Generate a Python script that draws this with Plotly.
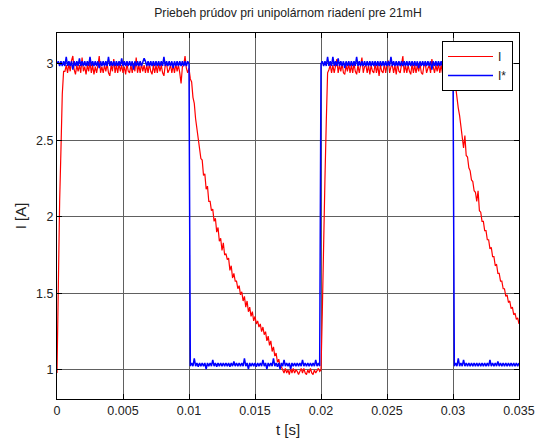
import numpy as np
import plotly.graph_objects as go

# time base: 0 .. 0.035 s, 0.1 ms sampling
t = np.round(np.arange(351) * 0.0001, 5)

# ---- measured current I (red) ----
i_rise1 = [0.98, 1.67, 2.10, 2.44, 2.80, 2.95]
i_plat1 = [2.95,2.99,2.94,3.00,2.95,3.02,3.05,2.96,2.93,2.99,2.95,2.99,2.94,3.04,2.95,2.98,2.93,2.99,2.95,3.01,
           2.94,2.99,2.93,2.98,2.94,2.99,3.05,2.94,2.98,2.94,2.99,2.95,3.00,2.94,2.92,2.99,2.95,3.03,2.94,2.99,
           2.94,3.00,2.95,2.99,2.94,2.98,2.93,3.00,2.95,2.94,2.99,2.94,3.00,2.95,3.04,2.94,2.99,2.94,3.00,2.95,
           2.99,2.94,2.99,2.94,3.00,2.95,2.93,2.99,2.94,2.99,2.94,3.00,2.95,2.99,2.94,2.92,2.99,3.00,2.94,2.96,
           2.99,2.94,2.99,2.94,3.00,2.95,2.99,2.94,2.87,2.98,2.99,3.05,2.97,2.94]
i_decay1 = [2.97,2.90,2.88,2.78,2.74,2.64,2.58,2.52,2.47,2.38,
            2.37,2.27,2.28,2.18,2.20,2.10,2.10,2.04,2.05,1.97,
            1.99,1.90,1.93,1.84,1.86,1.78,1.83,1.75,1.76,1.72,
            1.73,1.65,1.68,1.60,1.63,1.58,1.58,1.53,1.55,1.49,
            1.51,1.45,1.48,1.41,1.45,1.38,1.41,1.35,1.38,1.32,
            1.35,1.30,1.32,1.28,1.30,1.25,1.28,1.23,1.25,1.19,
            1.22,1.16,1.19,1.12,1.15,1.09,1.11,1.05,1.07,1.02,
            1.02]
i_low1 = [1.00,0.98,1.01,0.98,1.00,0.97,1.01,0.98,1.01,0.98,1.00,0.99,0.97,0.99,1.01,
          0.98,1.01,0.98,0.97,1.00,0.98,1.01,0.98,0.97,1.00,0.98,1.00,1.01,0.99]
i_rise2 = [1.00, 1.38, 1.93, 2.25, 2.62, 2.94]
i_plat2 = [2.96,2.99,2.94,2.99,2.94,2.99,3.03,2.94,2.99,2.95,3.00,2.94,2.93,2.99,2.95,3.00,2.94,2.99,2.94,3.00,
           2.95,2.93,2.99,2.94,2.99,3.04,2.94,2.98,2.99,2.94,2.99,2.93,2.99,2.95,2.94,3.00,2.94,2.99,2.92,2.99,
           2.95,2.94,3.00,2.94,2.99,3.02,2.94,2.98,2.99,2.94,2.99,2.93,3.00,2.95,2.94,2.99,3.05,2.94,2.99,2.94,
           2.99,2.95,2.93,3.00,2.94,2.99,2.94,2.99,2.95,3.00,2.94,2.93,2.99,3.00,2.94,2.97,2.99,2.94,3.03,2.98,
           2.94,2.99,2.95,3.00,2.94,2.99,2.94,2.99,2.95,3.00,2.94,2.99,2.95,2.98,2.96]
i_decay2 = [2.92,2.84,2.79,2.71,2.66,2.58,2.54,2.45,2.53,2.40,
            2.39,2.32,2.30,2.24,2.23,2.17,2.16,2.10,2.17,2.04,
            2.03,1.97,1.97,1.91,1.91,1.85,1.85,1.79,1.80,1.74,
            1.74,1.68,1.69,1.63,1.63,1.58,1.58,1.53,1.53,1.48,
            1.49,1.44,1.45,1.40,1.41,1.36,1.37,1.33,1.34,1.30]

# ---- reference current I* (blue) ----
r_high1 = [3.00,3.015,2.985,3.015,2.985,3.015,2.985,3.045,2.985,3.015,2.985,3.015,2.96,3.015,2.985,3.015,2.985,3.035,2.985,3.015,
           2.985,3.015,2.985,3.015,2.985,3.045,2.985,3.015,2.985,3.015,2.985,3.015,2.97,3.015,2.985,3.015,2.985,3.015,2.985,3.045,
           2.985,3.015,2.985,3.015,2.985,3.015,2.985,3.015,2.985,3.035,2.985,3.015,2.985,3.015,2.985,3.015,2.985,3.015,2.96,3.015,
           2.985,3.015,2.985,3.015,2.985,3.015,3.035,3.015,2.985,3.015,2.985,3.015,2.985,3.015,2.985,3.015,2.985,3.015,2.985,3.015,
           2.985,3.045,2.985,3.015,2.985,3.015,2.985,3.015,2.97,3.015,2.985,3.015,2.985,3.015,2.985,3.015,2.985,3.015,2.985,3.015,
           3.00]
r_low1 = [1.025,1.045,1.025,1.075,1.025,1.045,1.02,1.045,1.025,1.045,1.025,1.045,1.005,1.045,1.025,1.045,1.025,1.065,1.025,1.045,
          1.02,1.045,1.025,1.045,1.025,1.045,1.025,1.045,1.025,1.045,1.02,1.045,1.025,1.055,1.025,1.045,1.025,1.045,1.025,1.045,
          1.025,1.075,1.025,1.045,1.005,1.045,1.025,1.045,1.025,1.045,1.02,1.045,1.025,1.045,1.025,1.065,1.025,1.045,1.005,1.045,
          1.025,1.045,1.025,1.075,1.025,1.045,1.02,1.045,1.005,1.045,1.025,1.065,1.025,1.045,1.025,1.045,1.005,1.045,1.025,1.045,
          1.025,1.045,1.025,1.045,1.025,1.065,1.025,1.045,1.025,1.045,1.025,1.045,1.025,1.045,1.025,1.065,1.025,1.045,1.025]
r_high2 = [3.00,3.015,2.985,3.015,2.985,3.045,2.985,3.015,2.985,3.045,2.985,3.015,2.985,3.035,2.985,3.015,2.985,3.015,2.97,3.015,
           2.985,3.015,2.985,3.015,2.985,3.015,2.985,3.045,2.985,3.015,2.985,3.015,2.985,3.015,2.985,3.015,2.985,3.015,2.985,3.015,
           2.985,3.015,2.985,3.015,2.985,3.015,2.985,3.015,2.985,3.015,2.985,3.015,2.985,3.045,2.985,3.015,2.985,3.015,2.985,3.015,
           2.985,3.015,2.985,3.015,2.985,3.015,2.985,3.015,2.985,3.015,2.985,3.015,2.985,3.015,2.97,3.015,2.985,3.015,2.985,3.015,
           2.985,3.015,2.985,3.015,2.96,3.015,2.985,3.015,2.985,3.015,2.985,3.015,2.985,3.015,2.985,3.015,2.985,3.015,2.985,3.015,
           3.00]
r_low2 = [1.025,1.045,1.025,1.075,1.025,1.045,1.025,1.065,1.025,1.045,1.025,1.045,1.025,1.045,1.025,1.045,1.025,1.045,1.025,1.045,
          1.025,1.045,1.025,1.045,1.025,1.045,1.025,1.065,1.025,1.045,1.025,1.045,1.025,1.055,1.025,1.045,1.025,1.045,1.025,1.045,
          1.025,1.045,1.025,1.045,1.025,1.045,1.025,1.045,1.025,1.045]

x_ticks = [0, 0.005, 0.01, 0.015, 0.02, 0.025, 0.03, 0.035]
x_labels = ["0", "0.005", "0.01", "0.015", "0.02", "0.025", "0.03", "0.035"]
y_ticks = [1, 1.5, 2, 2.5, 3]
y_labels = ["1", "1.5", "2", "2.5", "3"]

i_meas = i_rise1 + i_plat1 + i_decay1 + i_low1 + i_rise2 + i_plat2 + i_decay2
i_ref = r_high1 + r_low1 + r_high2 + r_low2

FONT = "Liberation Sans, Arial, Helvetica, sans-serif"

fig = go.Figure()
fig.add_trace(go.Scatter(x=t, y=i_meas, mode="lines", name="I",
                         line=dict(color="#ff0000", width=1.2)))
fig.add_trace(go.Scatter(x=t, y=i_ref, mode="lines", name="I*",
                         line=dict(color="#0000ff", width=1.5)))

axis_common = dict(showline=True, linecolor="black", linewidth=1, mirror="ticks",
                   ticks="inside", ticklen=5, tickcolor="black", automargin=False,
                   showgrid=True, gridcolor="#606060", gridwidth=1, zeroline=False,
                   tickfont=dict(family=FONT, size=12.5, color="#222"))

fig.update_layout(
    width=538, height=439,
    margin=dict(l=57, r=19, t=33, b=40),
    paper_bgcolor="white", plot_bgcolor="white",
    font=dict(family=FONT, size=12.5, color="#222"),
    title=dict(text="Priebeh prúdov pri unipolárnom riadení pre 21mH",
               x=(57 + 519) / 2 / 538, xanchor="center",
               y=1 - 13 / 439, yanchor="middle",
               font=dict(family=FONT, size=12.2, color="#222")),
    xaxis=dict(range=[0, 0.035], tickvals=x_ticks, ticktext=x_labels,
               title=dict(text="t [s]", standoff=7), **axis_common),
    yaxis=dict(range=[0.81, 3.2], tickvals=y_ticks, ticktext=y_labels,
               title=dict(text="I [A]", standoff=5), **axis_common),
    legend=dict(x=(513 - 57) / 462, y=(399 - 41) / 366, xanchor="right", yanchor="top",
                bgcolor="white", bordercolor="black", borderwidth=1,
                itemwidth=45,
                font=dict(family=FONT, size=12, color="#222")),
    showlegend=True,
)

fig.write_html("out.html")
